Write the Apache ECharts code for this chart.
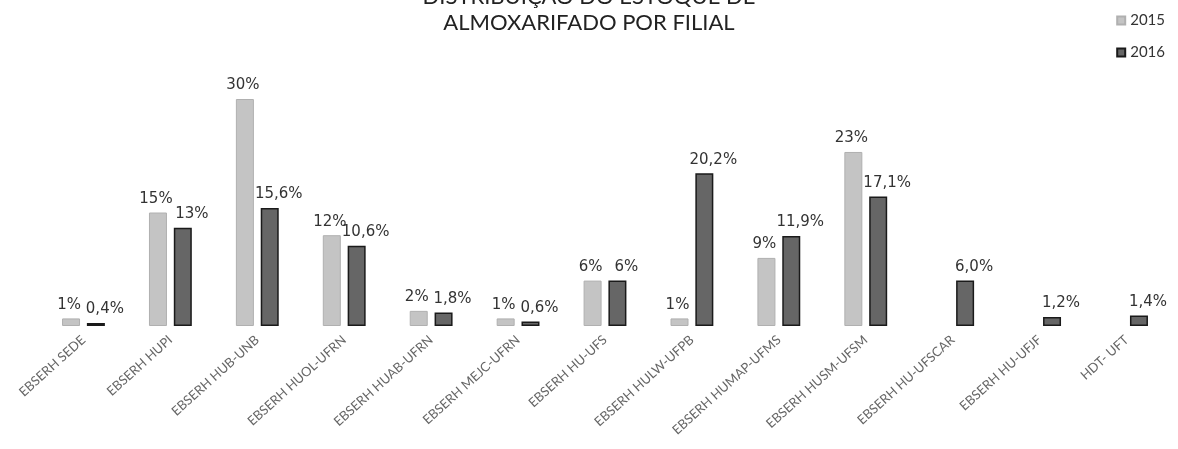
<!DOCTYPE html>
<html>
<head>
<meta charset="utf-8">
<script src="https://cdn.jsdelivr.net/npm/echarts@6/dist/echarts.min.js"></script>
<style>
  html, body { margin: 0; padding: 0; background: #fff; }
  #chart { width: 1178px; height: 449px; }
</style>
</head>
<body>
<div id="chart"></div>
<script>
// dados
var filiais = ['EBSERH SEDE', 'EBSERH HUPI', 'EBSERH HUB-UNB', 'EBSERH HUOL-UFRN', 'EBSERH HUAB-UFRN',
  'EBSERH MEJC-UFRN', 'EBSERH HU-UFS', 'EBSERH HULW-UFPB', 'EBSERH HUMAP-UFMS', 'EBSERH HUSM-UFSM',
  'EBSERH HU-UFSCAR', 'EBSERH HU-UFJF', 'HDT- UFT'];
var valores2015 = [1, 15, 30, 12, 2, 1, 6, 1, 9, 23, null, null, null];
var valores2016 = [0.4, 13, 15.6, 10.6, 1.8, 0.6, 6, 20.2, 11.9, 17.1, 6.0, 1.2, 1.4];
var rotulos2015 = ['1%', '15%', '30%', '12%', '2%', '1%', '6%', '1%', '9%', '23%', '', '', ''];
var rotulos2016 = ['0,4%', '13%', '15,6%', '10,6%', '1,8%', '0,6%', '6%', '20,2%', '11,9%', '17,1%', '6,0%', '1,2%', '1,4%'];

var fonte = 'Lato, "Open Sans", sans-serif';
var fonteRotulo = '"DejaVu Sans", sans-serif';

var myChart = echarts.init(document.getElementById('chart'));
myChart.setOption({
  animation: false,
  textStyle: { fontFamily: fonte },
  title: {
    text: 'DISTRIBUIÇÃO DO ESTOQUE DE\nALMOXARIFADO POR FILIAL',
    left: 'center',
    top: -21,
    textStyle: { fontSize: 22, fontWeight: 'normal', color: '#222', lineHeight: 26, fontFamily: fonte }
  },
  legend: {
    orient: 'vertical',
    right: 8,
    top: 8,
    icon: 'rect',
    itemWidth: 8,
    itemHeight: 8,
    itemGap: 17,
    textStyle: { fontSize: 15, color: '#333', fontFamily: fonte },
    data: ['2015', '2016']
  },
  grid: { left: 40, right: 8, top: 99, bottom: 123 },
  xAxis: {
    type: 'category',
    data: filiais,
    axisLine: { show: false },
    axisTick: { show: false },
    axisLabel: { rotate: 42, fontSize: 13, color: '#666', margin: 12, interval: 0 }
  },
  yAxis: {
    type: 'value',
    min: 0,
    max: 30,
    show: false,
    splitLine: { show: false }
  },
  series: [
    {
      name: '2015',
      type: 'bar',
      data: valores2015,
      barWidth: 18,
      barGap: '38%',
      itemStyle: { color: '#c4c4c4', borderColor: '#b0b0b0', borderWidth: 1 },
      label: {
        show: true, position: 'top', distance: 6, fontSize: 15, color: '#333', offset: [-2, 0],
        fontFamily: fonteRotulo,
        formatter: function (p) { return rotulos2015[p.dataIndex]; }
      }
    },
    {
      name: '2016',
      type: 'bar',
      data: valores2016,
      barWidth: 18,
      itemStyle: { color: '#666666', borderColor: '#1a1a1a', borderWidth: 1.5 },
      label: {
        show: true, position: 'top', distance: 6, fontSize: 15, color: '#333', offset: [9, 0],
        fontFamily: fonteRotulo,
        formatter: function (p) { return rotulos2016[p.dataIndex]; }
      }
    }
  ]
});
</script>
</body>
</html>
